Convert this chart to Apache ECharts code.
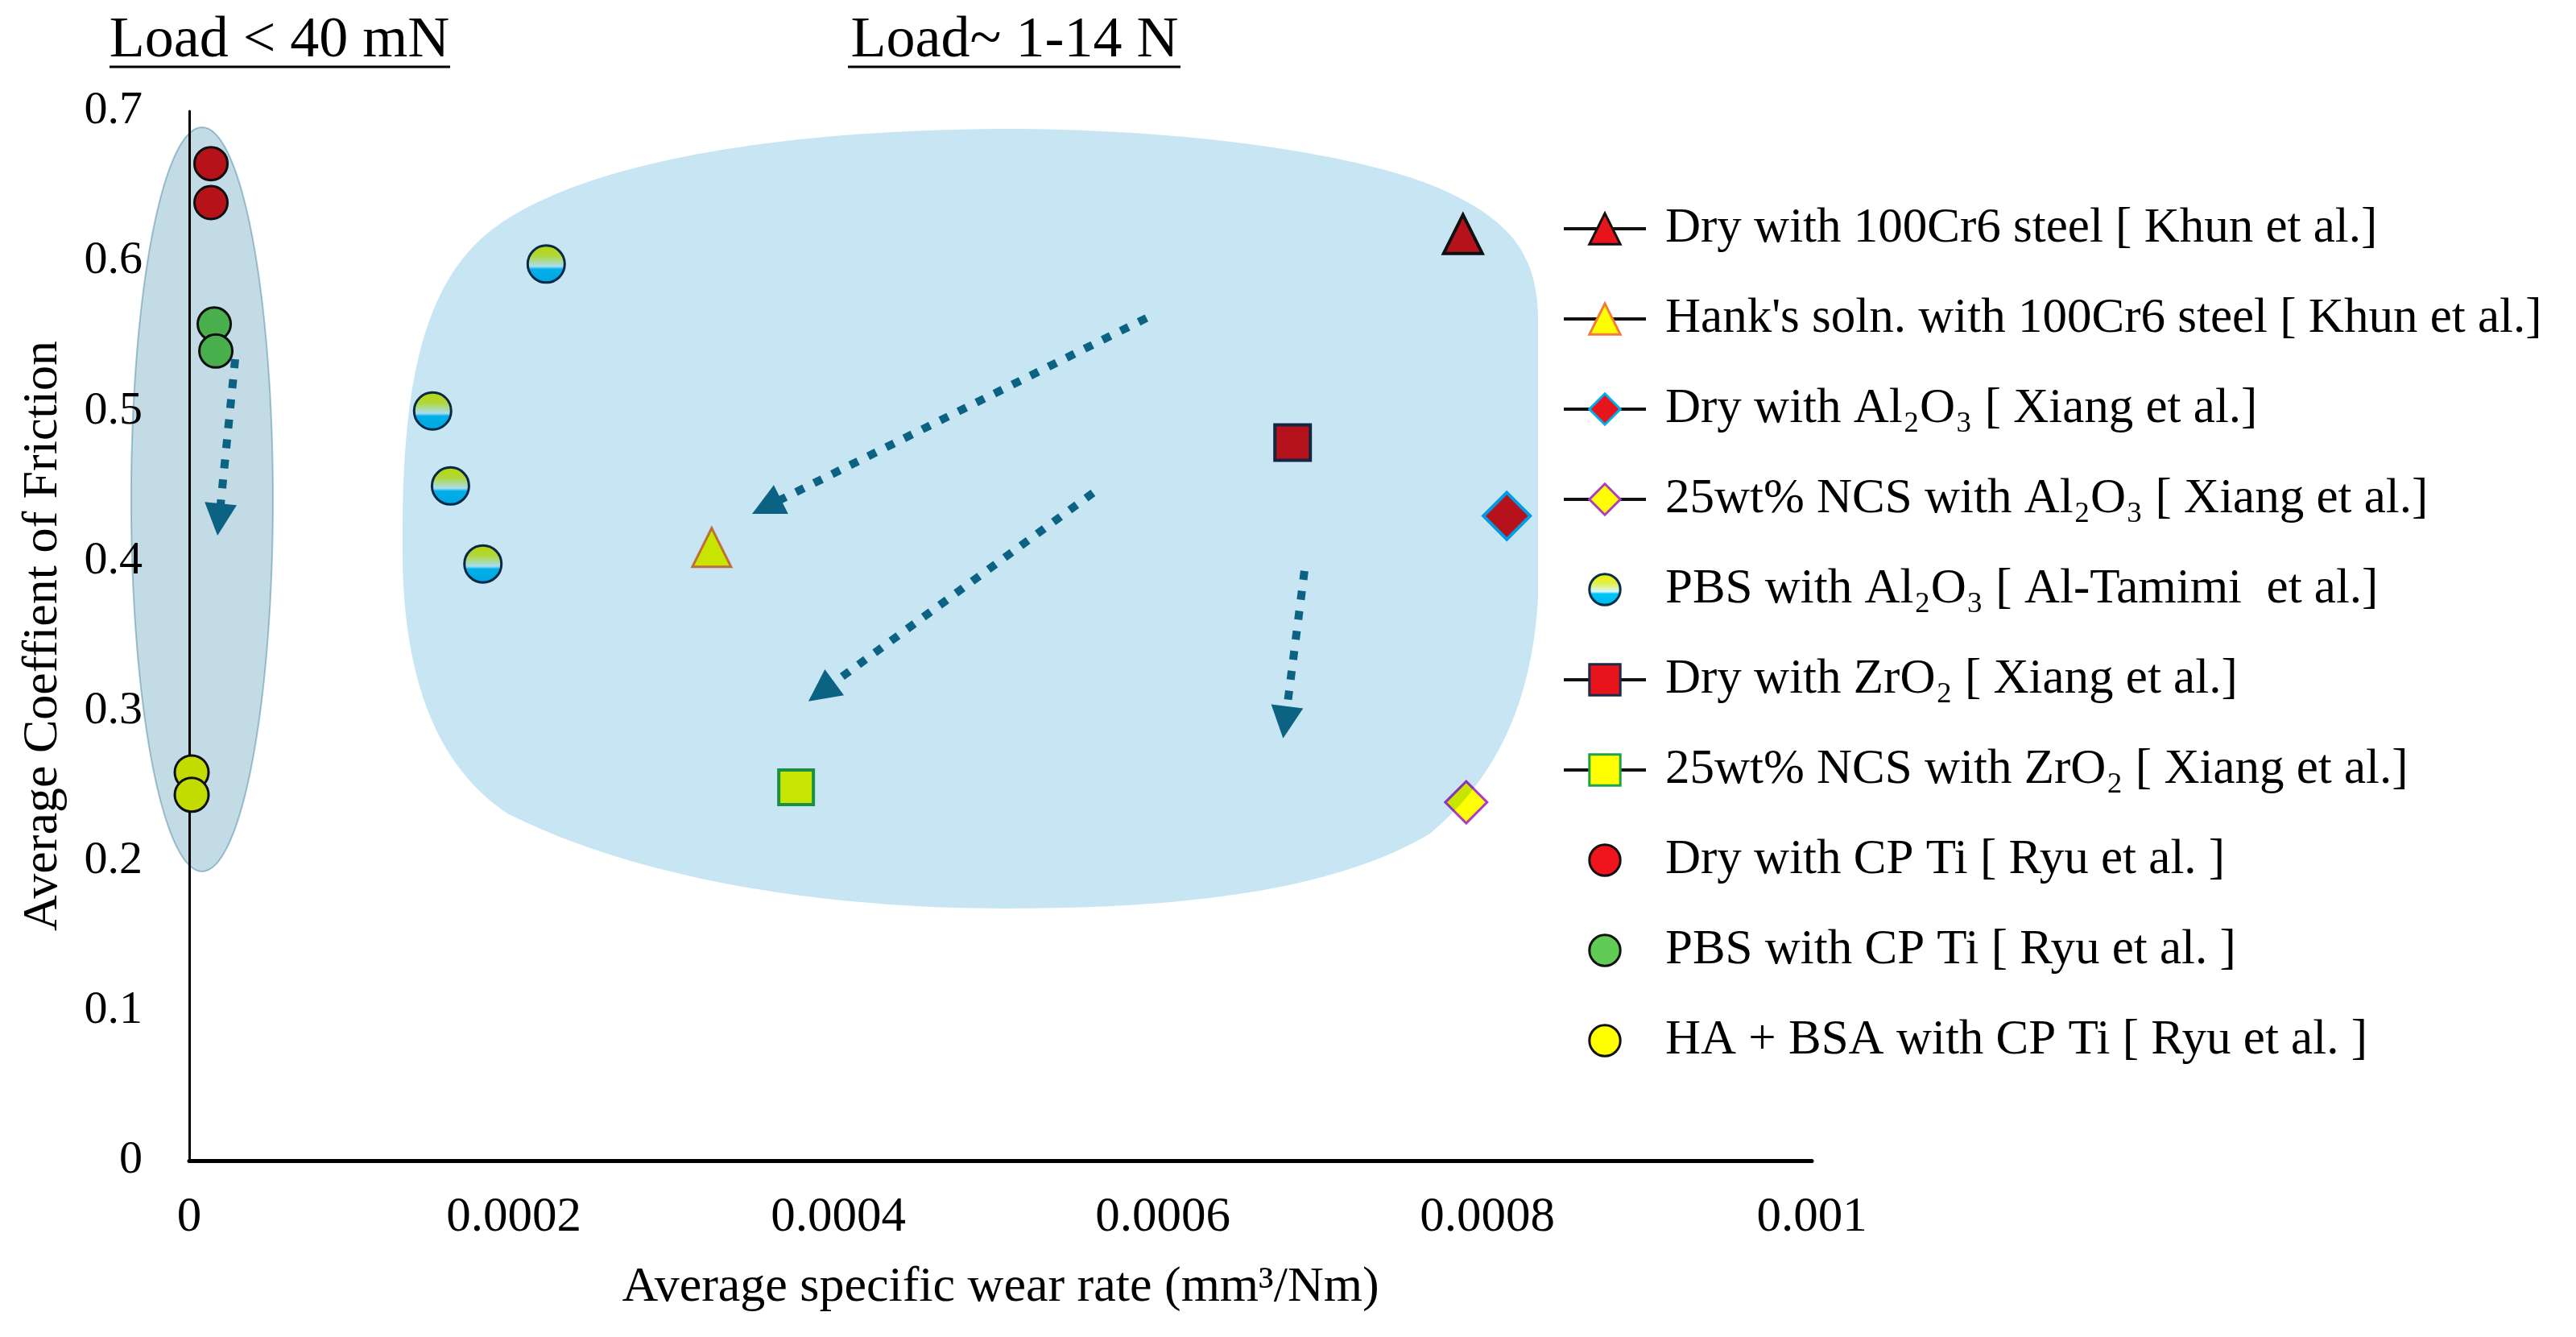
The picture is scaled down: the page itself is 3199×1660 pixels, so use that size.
<!DOCTYPE html>
<html>
<head>
<meta charset="utf-8">
<script src="https://cdn.jsdelivr.net/npm/echarts@6/dist/echarts.min.js"></script>
<style>html,body{margin:0;padding:0;background:#fff}#chart{width:3199px;height:1660px}</style>
</head>
<body>
<div id="chart"></div>
<script>
const FONT = '"Liberation Serif","Times New Roman",serif';

// ---------- data (x: specific wear rate mm3/Nm, y: coefficient of friction) ----------
const seriesNames = [
  'Dry with 100Cr6 steel [ Khun et al.]',
  "Hank's soln. with 100Cr6 steel [ Khun et al.]",
  'Dry with Al\u2082O\u2083 [ Xiang et al.]',
  '25wt% NCS with Al\u2082O\u2083 [ Xiang et al.]',
  'PBS with Al\u2082O\u2083 [ Al-Tamimi  et al.]',
  'Dry with ZrO\u2082 [ Xiang et al.]',
  '25wt% NCS with ZrO\u2082 [ Xiang et al.]',
  'Dry with CP Ti [ Ryu et al. ]',
  'PBS with CP Ti [ Ryu et al. ]',
  'HA + BSA with CP Ti [ Ryu et al. ]'
];
const dryCr6   = [[0.000785, 0.618]];
const hanksCr6 = [[0.000322, 0.409]];
const dryAl2O3 = [[0.000812, 0.430]];
const ncsAl2O3 = [[0.000787, 0.239]];
const pbsAl2O3 = [[0.000220, 0.598], [0.000150, 0.500], [0.000161, 0.450], [0.000181, 0.398]];
const dryZrO2  = [[0.000680, 0.479]];
const ncsZrO2  = [[0.000374, 0.249]];
const dryTi    = [[0.0000134, 0.665], [0.0000134, 0.639]];
const pbsTi    = [[0.0000154, 0.558], [0.0000164, 0.540]];
const haBsaTi  = [[0.0000015, 0.259], [0.0000015, 0.244]];
const seriesData = [dryCr6, hanksCr6, dryAl2O3, ncsAl2O3, pbsAl2O3, dryZrO2, ncsZrO2, dryTi, pbsTi, haBsaTi];

// trend arrows (data units): start -> arrow-head centre
const arrowPaths = [
  [[0.0000283, 0.5345], [0.0000184, 0.4276]],
  [[0.000590, 0.562], [0.0003558, 0.4362]],
  [[0.000557, 0.4454], [0.0003896, 0.3127]],
  [[0.0006873, 0.3933], [0.0006754, 0.2923]]
];
const headers = ['Load < 40 mN', 'Load~ 1-14 N'];
const xAxisName = 'Average specific wear rate (mm\u00b3/Nm)';
const yAxisName = 'Average Coeffient of Friction';

// ---------- styles ----------
const GRAD = {type: 'linear', x: 0, y: 0, x2: 0, y2: 1, colorStops: [
  {offset: 0, color: '#eef000'}, {offset: 0.3, color: '#e2f040'},
  {offset: 0.56, color: '#d8f6ff'}, {offset: 0.63, color: '#00c4f4'}, {offset: 1, color: '#00b8ee'}]};
const styles = [
  {symbol: 'triangle', size: 48, fill: '#e8141c', border: '#111111', bw: 4, line: true},
  {symbol: 'triangle', size: 48, fill: '#ffff00', border: '#f47b3c', bw: 3, line: true},
  {symbol: 'diamond',  size: 58, fill: '#e8141c', border: '#00aeef', bw: 4, line: true},
  {symbol: 'diamond',  size: 52, fill: '#ffff00', border: '#b03cc0', bw: 3, line: true},
  {symbol: 'circle',   size: 46, fill: GRAD,      border: '#0b2d4a', bw: 3, line: false},
  {symbol: 'rect',     size: 44, fill: '#e8141c', border: '#1b2a48', bw: 4, line: true},
  {symbol: 'rect',     size: 43, fill: '#ffff00', border: '#1fa34a', bw: 4, line: true},
  {symbol: 'circle',   size: 41, fill: '#f0141c', border: '#111111', bw: 3, line: false},
  {symbol: 'circle',   size: 41, fill: '#60cc55', border: '#111111', bw: 3, line: false},
  {symbol: 'circle',   size: 42, fill: '#ffff00', border: '#111111', bw: 3, line: false}
];

const series = seriesNames.map((name, i) => ({
  name: name,
  type: 'line',
  data: seriesData[i],
  symbol: styles[i].symbol,
  symbolSize: styles[i].size,
  showSymbol: true,
  z: 5,
  silent: true,
  lineStyle: {width: 0, color: '#111111'},
  itemStyle: {color: styles[i].fill, borderColor: styles[i].border, borderWidth: styles[i].bw, opacity: 1}
}));
series.push({
  type: 'lines',
  coordinateSystem: 'cartesian2d',
  z: 30,
  silent: true,
  symbol: ['none', 'triangle'],
  symbolSize: 40,
  lineStyle: {color: '#0b6283', width: 10, type: [11, 14], opacity: 1, curveness: 0},
  data: arrowPaths.map(p => ({coords: p}))
});

const chart = echarts.init(document.getElementById('chart'), null, {renderer: 'canvas'});
chart.setOption({
  animation: false,
  backgroundColor: '#ffffff',
  grid: {left: 235, right: 949, top: 138, bottom: 219, containLabel: false},
  xAxis: {
    type: 'value', min: 0, max: 0.001, interval: 0.0002,
    name: xAxisName, nameLocation: 'middle', nameGap: 127,
    nameTextStyle: {fontFamily: FONT, fontSize: 62, color: '#000'},
    axisLine: {show: true, onZero: false, lineStyle: {color: '#000', width: 5}},
    axisTick: {show: false}, splitLine: {show: false},
    axisLabel: {fontFamily: FONT, fontSize: 61, color: '#000', margin: 40}
  },
  yAxis: {
    type: 'value', min: 0, max: 0.7, interval: 0.1,
    name: yAxisName, nameLocation: 'middle', nameGap: 150,
    nameTextStyle: {fontFamily: FONT, fontSize: 62, color: '#000'},
    axisLine: {show: true, onZero: false, lineStyle: {color: '#000', width: 3}},
    axisTick: {show: false}, splitLine: {show: false},
    axisLabel: {fontFamily: FONT, fontSize: 58, color: '#000', margin: 58}
  },
  legend: {
    orient: 'vertical', left: 1940, top: 252, padding: 0,
    itemWidth: 102, itemHeight: 48, itemGap: 48, selectedMode: false,
    textStyle: {fontFamily: FONT, fontSize: 61, lineHeight: 64, color: '#000', padding: [0, 0, 0, 19]},
    itemStyle: {borderWidth: 3},
    data: seriesNames.map((n, i) => styles[i].line
      ? {name: n, lineStyle: {width: 4, color: '#111111'}}
      : {name: n})
  },
  series: series
});

// ---------- shaded regions (defined in data units, converted through the axes) ----------
const blobOutline = [
  ['M', [0.0001315, 0.3981]],
  ['C', [0.0001300, 0.5163], [0.0001430, 0.5900], [0.0001930, 0.6260]],
  ['C', [0.0002457, 0.6640], [0.0003548, 0.6882], [0.0005117, 0.6882]],
  ['C', [0.0006278, 0.6871], [0.0007270, 0.6694], [0.0007717, 0.6479]],
  ['C', [0.0008164, 0.6264], [0.0008313, 0.6022], [0.0008313, 0.5593]],
  ['L', [0.0008313, 0.3760]],
  ['C', [0.0008280, 0.3120], [0.0008090, 0.2580], [0.0007645, 0.2180]],
  ['C', [0.0007022, 0.1778], [0.0006030, 0.1682], [0.0005037, 0.1682]],
  ['C', [0.0003797, 0.1682], [0.0002705, 0.1910], [0.0001960, 0.2316]],
  ['C', [0.0001514, 0.2638], [0.0001330, 0.3229], [0.0001315, 0.3981]]
];
const lowLoadEllipse = {center: [0.0000079, 0.4411], rx: 0.0000437, ry: 0.2482};

const px = p => chart.convertToPixel({gridIndex: 0}, p);
function blobPoints() {
  const pts = [];
  let cur = null;
  blobOutline.forEach(seg => {
    const q = seg.slice(1).map(px);
    if (seg[0] === 'M' || seg[0] === 'L') { cur = q[0]; pts.push(cur); }
    else {
      const p0 = cur, p1 = q[0], p2 = q[1], p3 = q[2];
      for (let s = 1; s <= 40; s++) {
        const t = s / 40, u = 1 - t;
        pts.push([
          u*u*u*p0[0] + 3*u*u*t*p1[0] + 3*u*t*t*p2[0] + t*t*t*p3[0],
          u*u*u*p0[1] + 3*u*u*t*p1[1] + 3*u*t*t*p2[1] + t*t*t*p3[1]
        ]);
      }
      cur = p3;
    }
  });
  return pts;
}
function ellipsePoints() {
  const c = px(lowLoadEllipse.center);
  const r = px([lowLoadEllipse.center[0] + lowLoadEllipse.rx, lowLoadEllipse.center[1] + lowLoadEllipse.ry]);
  const rx = r[0] - c[0], ry = c[1] - r[1];
  const pts = [];
  for (let s = 0; s < 200; s++) {
    const a = s / 200 * Math.PI * 2;
    pts.push([c[0] + rx * Math.cos(a), c[1] + ry * Math.sin(a)]);
  }
  return pts;
}

chart.setOption({
  graphic: [
    {type: 'polygon', z: 10, silent: true, shape: {points: blobPoints()},
     style: {fill: '#c7e5f3', stroke: null, blend: 'multiply'}},
    {type: 'polygon', z: 10, silent: true, shape: {points: ellipsePoints()},
     style: {fill: '#c2dbe5', stroke: '#aecbd8', lineWidth: 2, blend: 'multiply'}},
    {type: 'text', z: 40, x: 347, y: 51, silent: true,
     style: {text: headers[0], font: '72px ' + FONT, fill: '#000', align: 'center', verticalAlign: 'middle'}},
    {type: 'line', z: 40, silent: true, shape: {x1: 136, y1: 83, x2: 559, y2: 83}, style: {stroke: '#000', lineWidth: 3}},
    {type: 'text', z: 40, x: 1260, y: 51, silent: true,
     style: {text: headers[1], font: '72px ' + FONT, fill: '#000', align: 'center', verticalAlign: 'middle'}},
    {type: 'line', z: 40, silent: true, shape: {x1: 1053, y1: 83, x2: 1466, y2: 83}, style: {stroke: '#000', lineWidth: 3}}
  ]
});
</script>
</body>
</html>
